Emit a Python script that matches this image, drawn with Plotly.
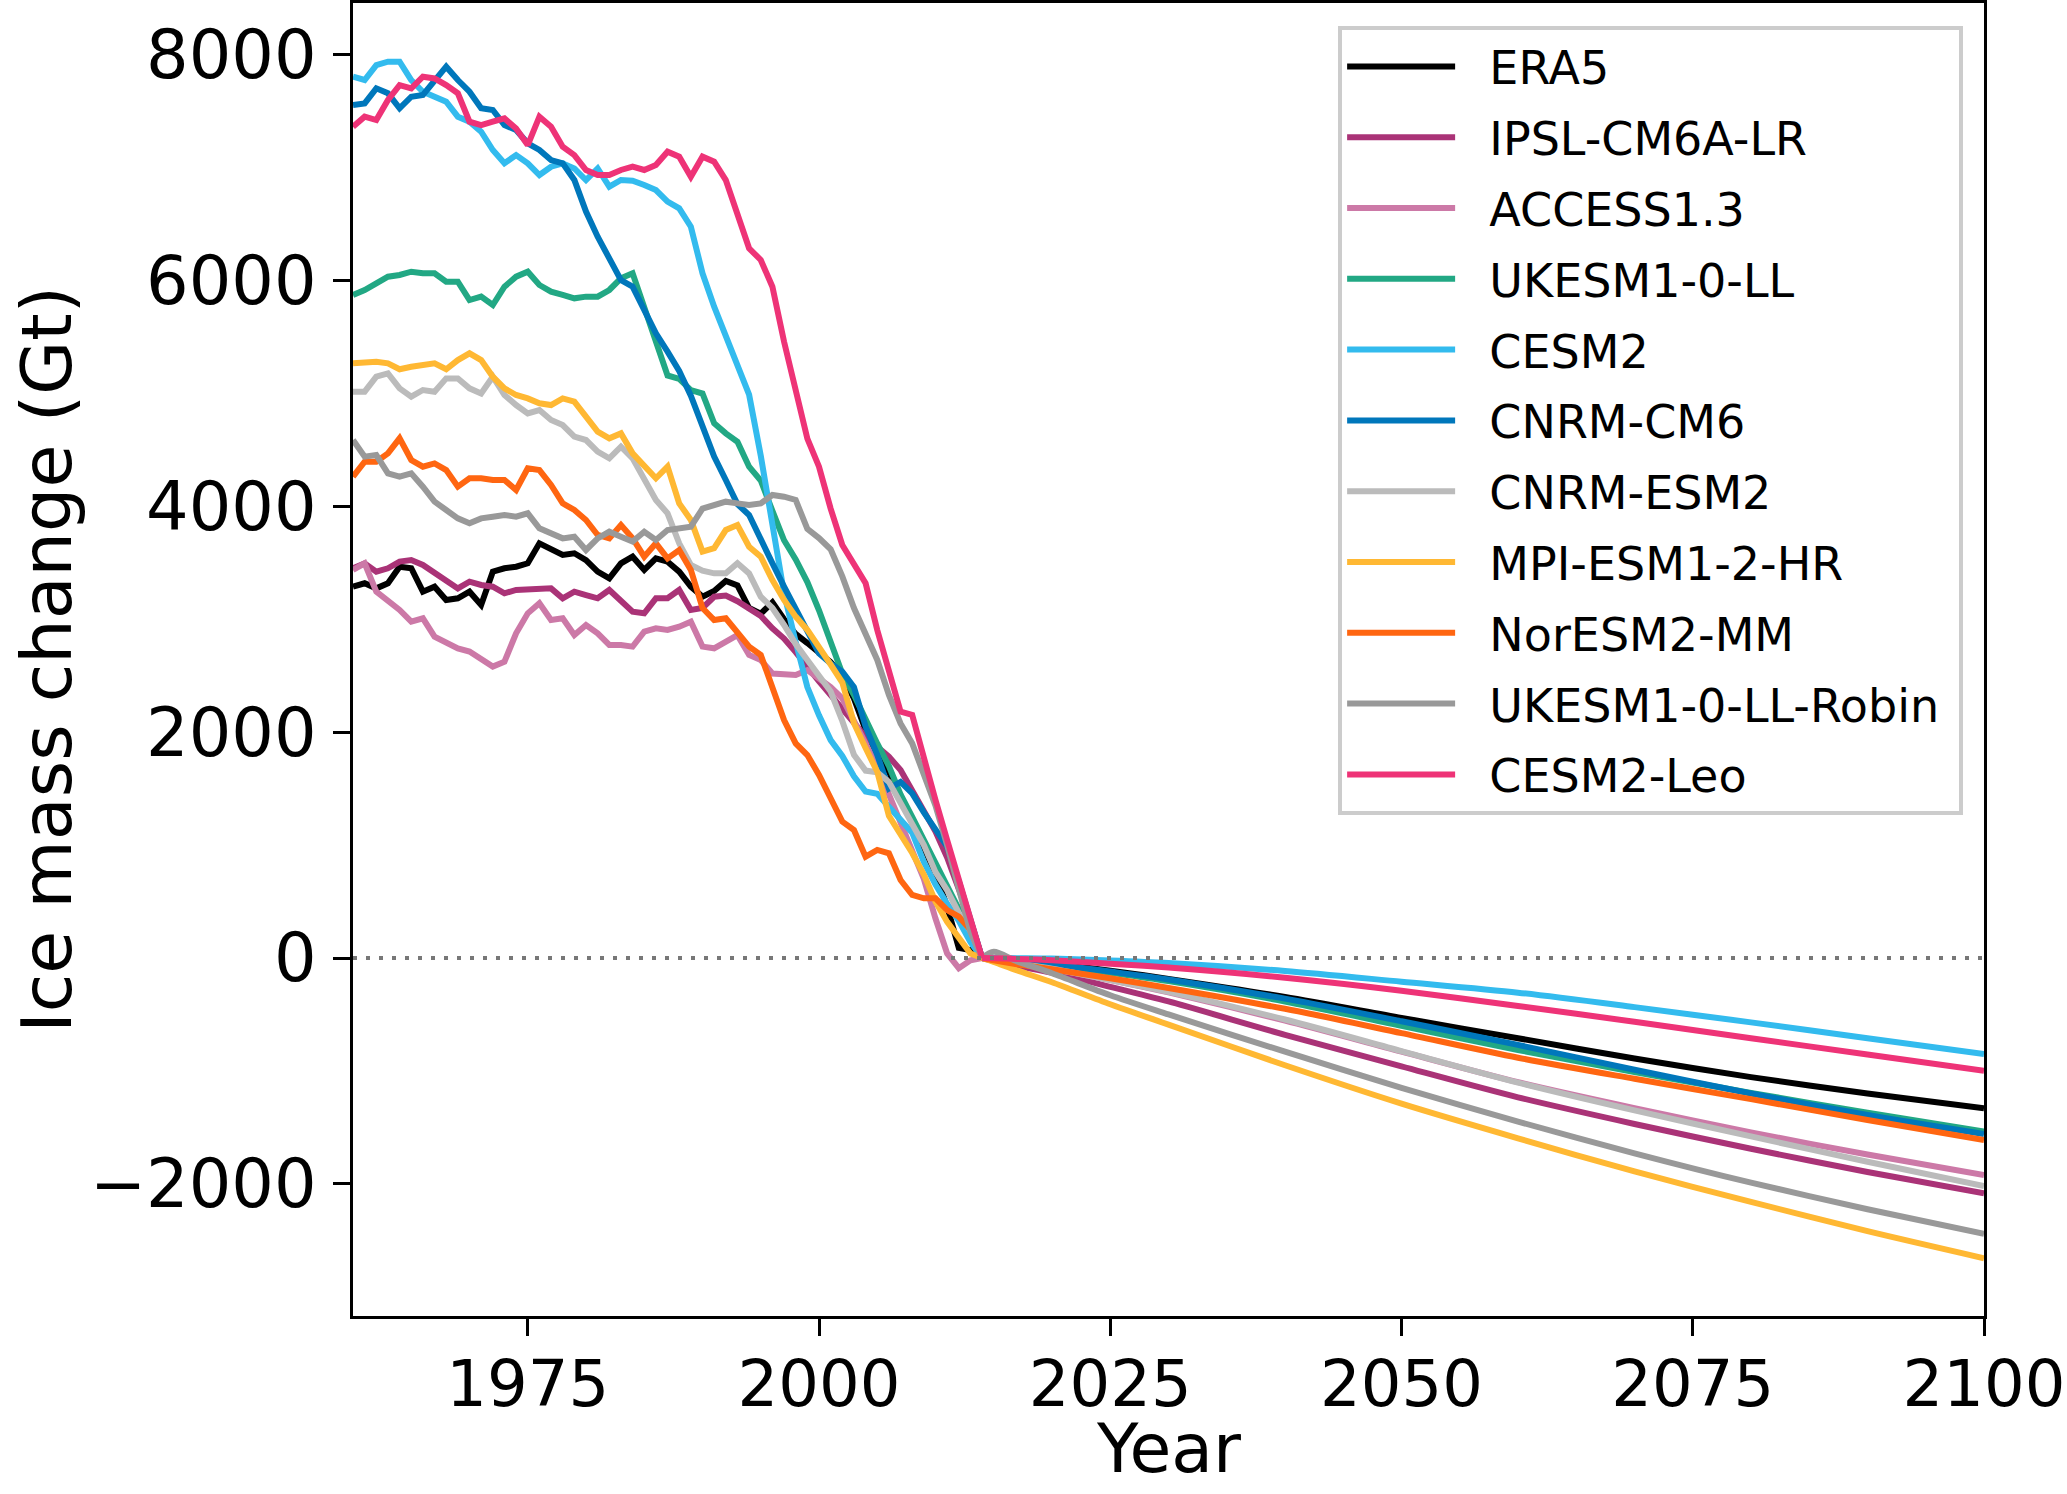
import plotly.graph_objects as go

# ---------------- data ----------------
hist_years = list(range(1960, 2015))
fut_years = [2014, 2015, 2017, 2020, 2025, 2030, 2040, 2050, 2060, 2070, 2080, 2090, 2100]

models = ["ERA5", "IPSL-CM6A-LR", "ACCESS1.3", "UKESM1-0-LL", "CESM2", "CNRM-CM6",
          "CNRM-ESM2", "MPI-ESM1-2-HR", "NorESM2-MM", "UKESM1-0-LL-Robin", "CESM2-Leo"]

colors = ["#000000", "#AA3377", "#CC79A7", "#22A884", "#33BBEE", "#0077BB",
          "#BBBBBB", "#FFB833", "#FF6611", "#999999", "#EE3377"]

era5_hist = [3289, 3319, 3274, 3319, 3466, 3452, 3245, 3289, 3171, 3186, 3245, 3127, 3422, 3452,
             3466, 3496, 3673, 3614, 3570, 3585, 3525, 3422, 3363, 3496, 3555, 3437, 3540, 3511,
             3422, 3289, 3201, 3250, 3340, 3300, 3100, 3050, 3150, 3000, 2870, 2790, 2700, 2620,
             2500, 2300, 2020, 1800, 1650, 1430, 1220, 990, 750, 455, 90, 70, 0]
ipsl_hist = [3452, 3496, 3422, 3452, 3511, 3525, 3481, 3407, 3333, 3274, 3333, 3304, 3289, 3230,
             3260, 3266, 3269, 3274, 3186, 3245, 3215, 3186, 3260, 3171, 3068, 3053, 3186, 3186,
             3260, 3083, 3100, 3200, 3210, 3160, 3090, 3030, 2920, 2830, 2710, 2570, 2450, 2330,
             2200, 2080, 1960, 1870, 1783, 1665, 1488, 1320, 1120, 890, 620, 330, 0]
access_hist = [3437, 3496, 3245, 3171, 3083, 2979, 3009, 2846, 2787, 2743, 2714, 2655, 2581, 2625,
               2876, 3053, 3142, 2994, 3009, 2861, 2950, 2876, 2773, 2773, 2758, 2891, 2920, 2906,
               2935, 2979, 2758, 2743, 2800, 2860, 2684, 2640, 2520, 2507, 2507, 2550, 2480, 2400,
               2300, 2100, 1900, 1700, 1450, 1200, 950, 700, 350, 40, -90, -20, 0]
ukesm_hist = [5873, 5917, 5976, 6035, 6050, 6079, 6065, 6065, 5991, 5991, 5828, 5858, 5784, 5946,
              6035, 6079, 5961, 5902, 5873, 5843, 5858, 5858, 5917, 6020, 6065, 5769, 5450, 5160,
              5130, 5030, 5000, 4736, 4647, 4573, 4352, 4230, 3960, 3700, 3530, 3330, 3080, 2780,
              2520, 2330, 2100, 1900, 1700, 1450, 1250, 1050, 850, 650, 450, 230, 0]
cesm2_hist = [7806, 7777, 7909, 7939, 7939, 7777, 7673, 7629, 7585, 7452, 7408, 7319, 7157, 7039,
              7112, 7039, 6935, 7009, 7039, 6994, 6891, 6994, 6832, 6891, 6885, 6847, 6802, 6699,
              6640, 6478, 6065, 5769, 5518, 5238, 4990, 4450, 3800, 3230, 2800, 2400, 2150, 1930,
              1790, 1610, 1475, 1455, 1340, 1230, 1110, 850, 650, 480, 330, 140, 0]
cnrmcm6_hist = [7555, 7570, 7703, 7659, 7526, 7629, 7644, 7762, 7895, 7777, 7673, 7526, 7511, 7378,
                7334, 7216, 7157, 7068, 7039, 6891, 6611, 6389, 6197, 6005, 5946, 5740, 5533, 5371,
                5200, 4980, 4720, 4441, 4234, 4020, 3924, 3700, 3496, 3289, 3083, 2876, 2699, 2610,
                2536, 2400, 2050, 1800, 1500, 1560, 1458, 1290, 1134, 986, 680, 320, 0]
cnrmesm2_hist = [5016, 5016, 5149, 5178, 5046, 4972, 5031, 5016, 5134, 5134, 5046, 5001, 5149, 4987,
                 4898, 4824, 4854, 4765, 4721, 4618, 4588, 4485, 4426, 4529, 4426, 4249, 4057, 3939,
                 3673, 3481, 3430, 3407, 3407, 3496, 3407, 3200, 3100, 2950, 2780, 2640, 2510, 2360,
                 2100, 1800, 1660, 1645, 1560, 1370, 1200, 1000, 760, 600, 400, 240, 0]
mpi_hist = [5267, 5273, 5281, 5267, 5215, 5237, 5252, 5267, 5215, 5296, 5356, 5296, 5149, 5046,
            4987, 4957, 4913, 4898, 4957, 4928, 4795, 4662, 4603, 4647, 4470, 4352, 4249, 4352,
            4027, 3880, 3600, 3630, 3791, 3835, 3643, 3555, 3348, 3171, 3024, 2906, 2760, 2600,
            2440, 2080, 1860, 1650, 1260, 1100, 930, 740, 500, 320, 170, 40, 0]
noresm_hist = [4263, 4396, 4396, 4470, 4603, 4411, 4352, 4381, 4322, 4175, 4249, 4249, 4234, 4234,
               4145, 4337, 4322, 4190, 4027, 3968, 3880, 3747, 3717, 3835, 3717, 3555, 3673, 3540,
               3614, 3437, 3100, 2994, 3009, 2891, 2758, 2684, 2400, 2108, 1901, 1798, 1621, 1399,
               1208, 1134, 898, 957, 927, 691, 558, 529, 529, 425, 366, 250, 0]
robin_hist = [4588, 4441, 4455, 4293, 4263, 4293, 4175, 4042, 3968, 3894, 3850, 3894, 3909, 3924,
              3909, 3939, 3806, 3762, 3717, 3732, 3614, 3717, 3776, 3732, 3688, 3776, 3703, 3791,
              3806, 3821, 3980, 4013, 4042, 4027, 4013, 4027, 4101, 4086, 4057, 3800, 3720, 3620,
              3380, 3100, 2880, 2640, 2330, 2078, 1901, 1606, 1350, 1000, 600, 230, 0]
leo_hist = [7363, 7452, 7422, 7600, 7732, 7703, 7806, 7791, 7732, 7659, 7408, 7378, 7408, 7437,
            7348, 7201, 7452, 7363, 7186, 7112, 6980, 6935, 6935, 6980, 7009, 6980, 7024, 7142,
            7098, 6920, 7098, 7053, 6891, 6596, 6286, 6183, 5946, 5459, 5000, 4600, 4352, 3980,
            3658, 3496, 3319, 2905, 2551, 2182, 2153, 1754, 1399, 1045, 691, 366, 0]

era5_fut = [0, -10, -28, -50, -112, -185, -345, -530, -711, -890, -1055, -1200, -1331]
ipsl_fut = [0, -25, -70, -130, -255, -385, -680, -960, -1234, -1470, -1690, -1895, -2084]
access_fut = [0, -18, -50, -95, -195, -305, -555, -830, -1100, -1330, -1545, -1740, -1922]
ukesm_fut = [0, -12, -32, -60, -130, -205, -385, -600, -815, -1010, -1195, -1370, -1538]
cesm2_fut = [0, 0, -2, -5, -22, -45, -115, -210, -307, -435, -570, -710, -850]
cnrmcm6_fut = [0, -10, -28, -55, -120, -190, -360, -560, -770, -990, -1200, -1390, -1559]
cnrmesm2_fut = [0, -18, -50, -95, -195, -300, -545, -825, -1104, -1350, -1580, -1805, -2019]
mpi_fut = [0, -35, -110, -215, -410, -590, -950, -1290, -1597, -1890, -2160, -2420, -2660]
noresm_fut = [0, -20, -55, -100, -180, -265, -450, -665, -883, -1070, -1250, -1435, -1612]
robin_fut = [0, 55, -30, -135, -330, -500, -830, -1150, -1449, -1730, -1990, -2225, -2444]
leo_fut = [0, -2, -8, -20, -50, -85, -175, -290, -425, -565, -710, -855, -998]

hist_series = [era5_hist, ipsl_hist, access_hist, ukesm_hist, cesm2_hist, cnrmcm6_hist,
               cnrmesm2_hist, mpi_hist, noresm_hist, robin_hist, leo_hist]
fut_series = [era5_fut, ipsl_fut, access_fut, ukesm_fut, cesm2_fut, cnrmcm6_fut,
              cnrmesm2_fut, mpi_fut, noresm_fut, robin_fut, leo_fut]

y_ticks = [-2000, 0, 2000, 4000, 6000, 8000]
x_ticks = [1975, 2000, 2025, 2050, 2075, 2100]
x_title = "Year"
y_title = "Ice mass change (Gt)"

# ---------------- figure ----------------
FONT = "DejaVu Sans"
LW = 6
NB = "\u00a0"

fig = go.Figure()
for name, col, h, f in zip(models, colors, hist_series, fut_series):
    fig.add_trace(go.Scatter(x=hist_years, y=h, mode="lines", name=NB + NB + name + NB,
                             legendgroup=name, showlegend=True,
                             line=dict(color=col, width=LW), hoverinfo="skip"))
    fig.add_trace(go.Scatter(x=fut_years, y=f, mode="lines", name=name,
                             legendgroup=name, showlegend=False,
                             line=dict(color=col, width=LW, shape="spline", smoothing=0.8),
                             hoverinfo="skip"))

fig.add_shape(type="line", xref="paper", yref="y", x0=0, x1=1, y0=0, y1=0,
              line=dict(color="#777777", width=4, dash="4px,9px"), layer="above")

axis_common = dict(showline=True, linecolor="black", linewidth=3, mirror=True,
                   ticks="outside", ticklen=17, tickwidth=3, tickcolor="black",
                   showgrid=False, zeroline=False, ticklabeloverflow="allow")

fig.update_xaxes(range=[1960, 2100], tickvals=x_ticks, ticktext=[str(v) for v in x_ticks],
                 tickfont=dict(family=FONT, size=64, color="black"),
                 ticklabelstandoff=-7, **axis_common)
fig.update_yaxes(range=[-3171, 8459], tickvals=y_ticks,
                 tickfont=dict(family=FONT, size=67, color="black"),
                 ticklabelstandoff=3, **axis_common)

# axis titles placed as annotations (paper coords relative to plot area)
fig.add_annotation(text=x_title, xref="paper", yref="paper", x=0.5, y=-0.101,
                   xanchor="center", yanchor="middle", showarrow=False,
                   font=dict(family=FONT, size=68, color="black"))
fig.add_annotation(text=y_title, xref="paper", yref="paper", x=-0.188, y=0.5,
                   xanchor="center", yanchor="middle", showarrow=False, textangle=-90,
                   font=dict(family=FONT, size=70, color="black"))

fig.update_layout(
    width=2067, height=1494,
    margin=dict(l=353, r=83, t=3, b=178, autoexpand=False),
    plot_bgcolor="white", paper_bgcolor="white",
    font=dict(family=FONT, size=46, color="black"),
    showlegend=True,
    legend=dict(x=0.604, y=0.9825, xanchor="left", yanchor="top",
                bgcolor="rgba(255,255,255,0.8)", bordercolor="#CCCCCC", borderwidth=4,
                font=dict(family=FONT, size=46, color="black"),
                traceorder="grouped", tracegroupgap=8, itemwidth=108),
)

fig.write_html("out.html", config={"displayModeBar": False},
               post_script="document.body.style.margin='0px';")
